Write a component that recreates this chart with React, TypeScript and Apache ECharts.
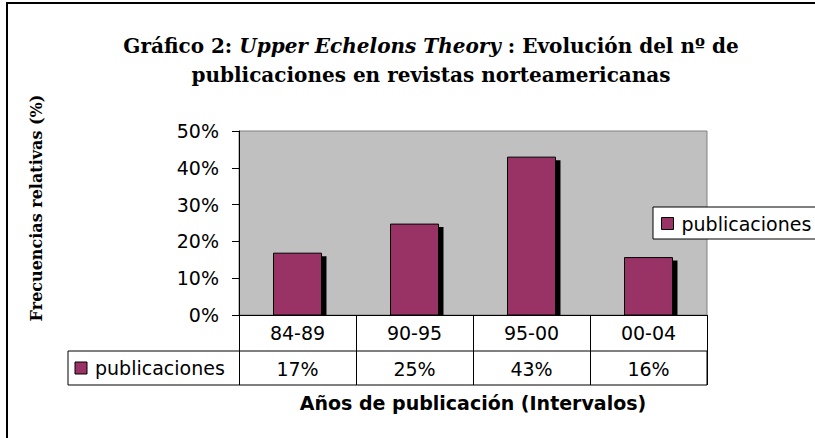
import React, { useEffect, useRef } from "react";
import * as echarts from "echarts";

const categories = ["84-89", "90-95", "95-00", "00-04"];
const publicaciones = [0.168, 0.247, 0.429, 0.156];
const yTicks = [0, 0.1, 0.2, 0.3, 0.4, 0.5];
const seriesName = "publicaciones";

const SANS = '"DejaVu Sans", "Liberation Sans", Arial, sans-serif';
const SERIF = '"DejaVu Serif", "Liberation Serif", "Times New Roman", serif';
const BAR = "#993366";

const pct = (v: number) => `${Math.round(v * 100)}%`;

export default function App() {
  const ref = useRef<HTMLDivElement>(null);
  useEffect(() => {
    document.body.style.margin = "0";
    const chart = echarts.init(ref.current!, null, { renderer: "svg" });
    const option: any = {
      animation: false,
      backgroundColor: "#ffffff",
      grid: {
        left: 239,
        top: 131,
        width: 468,
        height: 184,
        show: true,
        backgroundColor: "#C0C0C0",
        borderColor: "#808080",
        borderWidth: 1,
      },
      legend: {
        data: [seriesName],
        left: 653,
        top: 207,
        orient: "vertical",
        backgroundColor: "#ffffff",
        borderColor: "#000000",
        borderWidth: 1,
        padding: [7, 12, 6, 8],
        icon: "rect",
        itemWidth: 12,
        itemHeight: 12,
        itemStyle: { color: BAR, borderColor: "#000", borderWidth: 1 },
        textStyle: { fontFamily: SANS, fontSize: 19, color: "#000", padding: [0, 0, 0, 3] },
      },
      xAxis: [
        {
          type: "category",
          data: categories,
          position: "bottom",
          name: "Años de publicación (Intervalos)",
          nameLocation: "middle",
          nameGap: 78,
          nameTextStyle: { fontFamily: SANS, fontSize: 19, fontWeight: "bold", color: "#000", verticalAlign: "top" },
          axisLine: { show: true, lineStyle: { color: "#000", width: 1 } },
          axisTick: { show: true, length: 70, lineStyle: { color: "#000", width: 1 } },
          axisLabel: { fontFamily: SANS, fontSize: 19, color: "#000", margin: 8 },
          splitLine: { show: false },
        },
        {
          type: "category",
          data: publicaciones.map(pct),
          position: "bottom",
          axisLine: { show: false },
          axisTick: { show: false },
          axisLabel: { fontFamily: SANS, fontSize: 19, color: "#000", margin: 44 },
          splitLine: { show: false },
        },
      ],
      yAxis: {
        type: "value",
        min: yTicks[0],
        max: yTicks[yTicks.length - 1],
        interval: 0.1,
        axisLine: { show: true, lineStyle: { color: "#000", width: 1 } },
        axisTick: { show: true, length: 7, lineStyle: { color: "#000" } },
        axisLabel: { fontFamily: SANS, fontSize: 19, color: "#000", margin: 20, formatter: (v: number) => pct(v) },
        splitLine: { show: false },
      },
      series: [
        {
          name: seriesName,
          type: "custom",
          xAxisIndex: 0,
          yAxisIndex: 0,
          itemStyle: { color: BAR, borderColor: "#000", borderWidth: 1 },
          data: publicaciones.map((v, i) => [i, v]),
          renderItem: (params: any, api: any) => {
            const idx = api.value(0);
            const val = api.value(1);
            const top = api.coord([idx, val]);
            const base = api.coord([idx, 0]);
            const band = api.size([1, 0])[0];
            const w = band * 0.41;
            const x0 = top[0] - w / 2;
            const h = base[1] - top[1];
            return {
              type: "group",
              children: [
                {
                  type: "rect",
                  shape: { x: x0 + 5, y: top[1] + 3, width: w, height: h - 3 },
                  style: { fill: "#000" },
                },
                {
                  type: "rect",
                  shape: { x: x0, y: top[1], width: w, height: h },
                  style: { fill: BAR, stroke: "#000", lineWidth: 1 },
                },
              ],
            };
          },
        },
      ],
      graphic: [
        {
          type: "rect",
          shape: { x: 7, y: 3, width: 840, height: 460 },
          style: { fill: "none", stroke: "#000", lineWidth: 2 },
          silent: true,
        },
        {
          type: "rect",
          shape: { x: 68, y: 351, width: 639, height: 34 },
          style: { fill: "none", stroke: "#000", lineWidth: 1 },
          silent: true,
        },
        {
          type: "rect",
          shape: { x: 75, y: 362, width: 12, height: 12 },
          style: { fill: BAR, stroke: "#000", lineWidth: 1 },
          silent: true,
        },
        {
          type: "text",
          x: 95,
          y: 368,
          style: {
            text: seriesName,
            font: `19px ${SANS}`,
            fill: "#000",
            verticalAlign: "middle",
            align: "left",
          },
          silent: true,
        },
        {
          type: "text",
          x: 36,
          y: 208,
          rotation: Math.PI / 2,
          style: {
            text: "Frecuencias relativas (%)",
            font: `bold 16px ${SERIF}`,
            fill: "#000",
            align: "center",
            verticalAlign: "middle",
          },
          silent: true,
        },
        {
          type: "text",
          x: 431,
          y: 60,
          style: {
            text:
              "{b|Gráfico 2: }{i|Upper Echelons Theory}{b| : Evolución del nº de}\n{b|publicaciones en revistas norteamericanas}",
            align: "center",
            verticalAlign: "middle",
            fill: "#000",
            rich: {
              b: { fontFamily: SERIF, fontSize: 20, fontWeight: "bold", lineHeight: 29, fill: "#000", color: "#000" },
              i: {
                fontFamily: SERIF,
                fontSize: 20,
                fontWeight: "bold",
                fontStyle: "italic",
                lineHeight: 29,
                fill: "#000",
                color: "#000",
              },
            },
          },
          silent: true,
        },
      ],
    };
    chart.setOption(option);
    return () => chart.dispose();
  }, []);
  return <div ref={ref} style={{ width: 815, height: 438 }} />;
}
